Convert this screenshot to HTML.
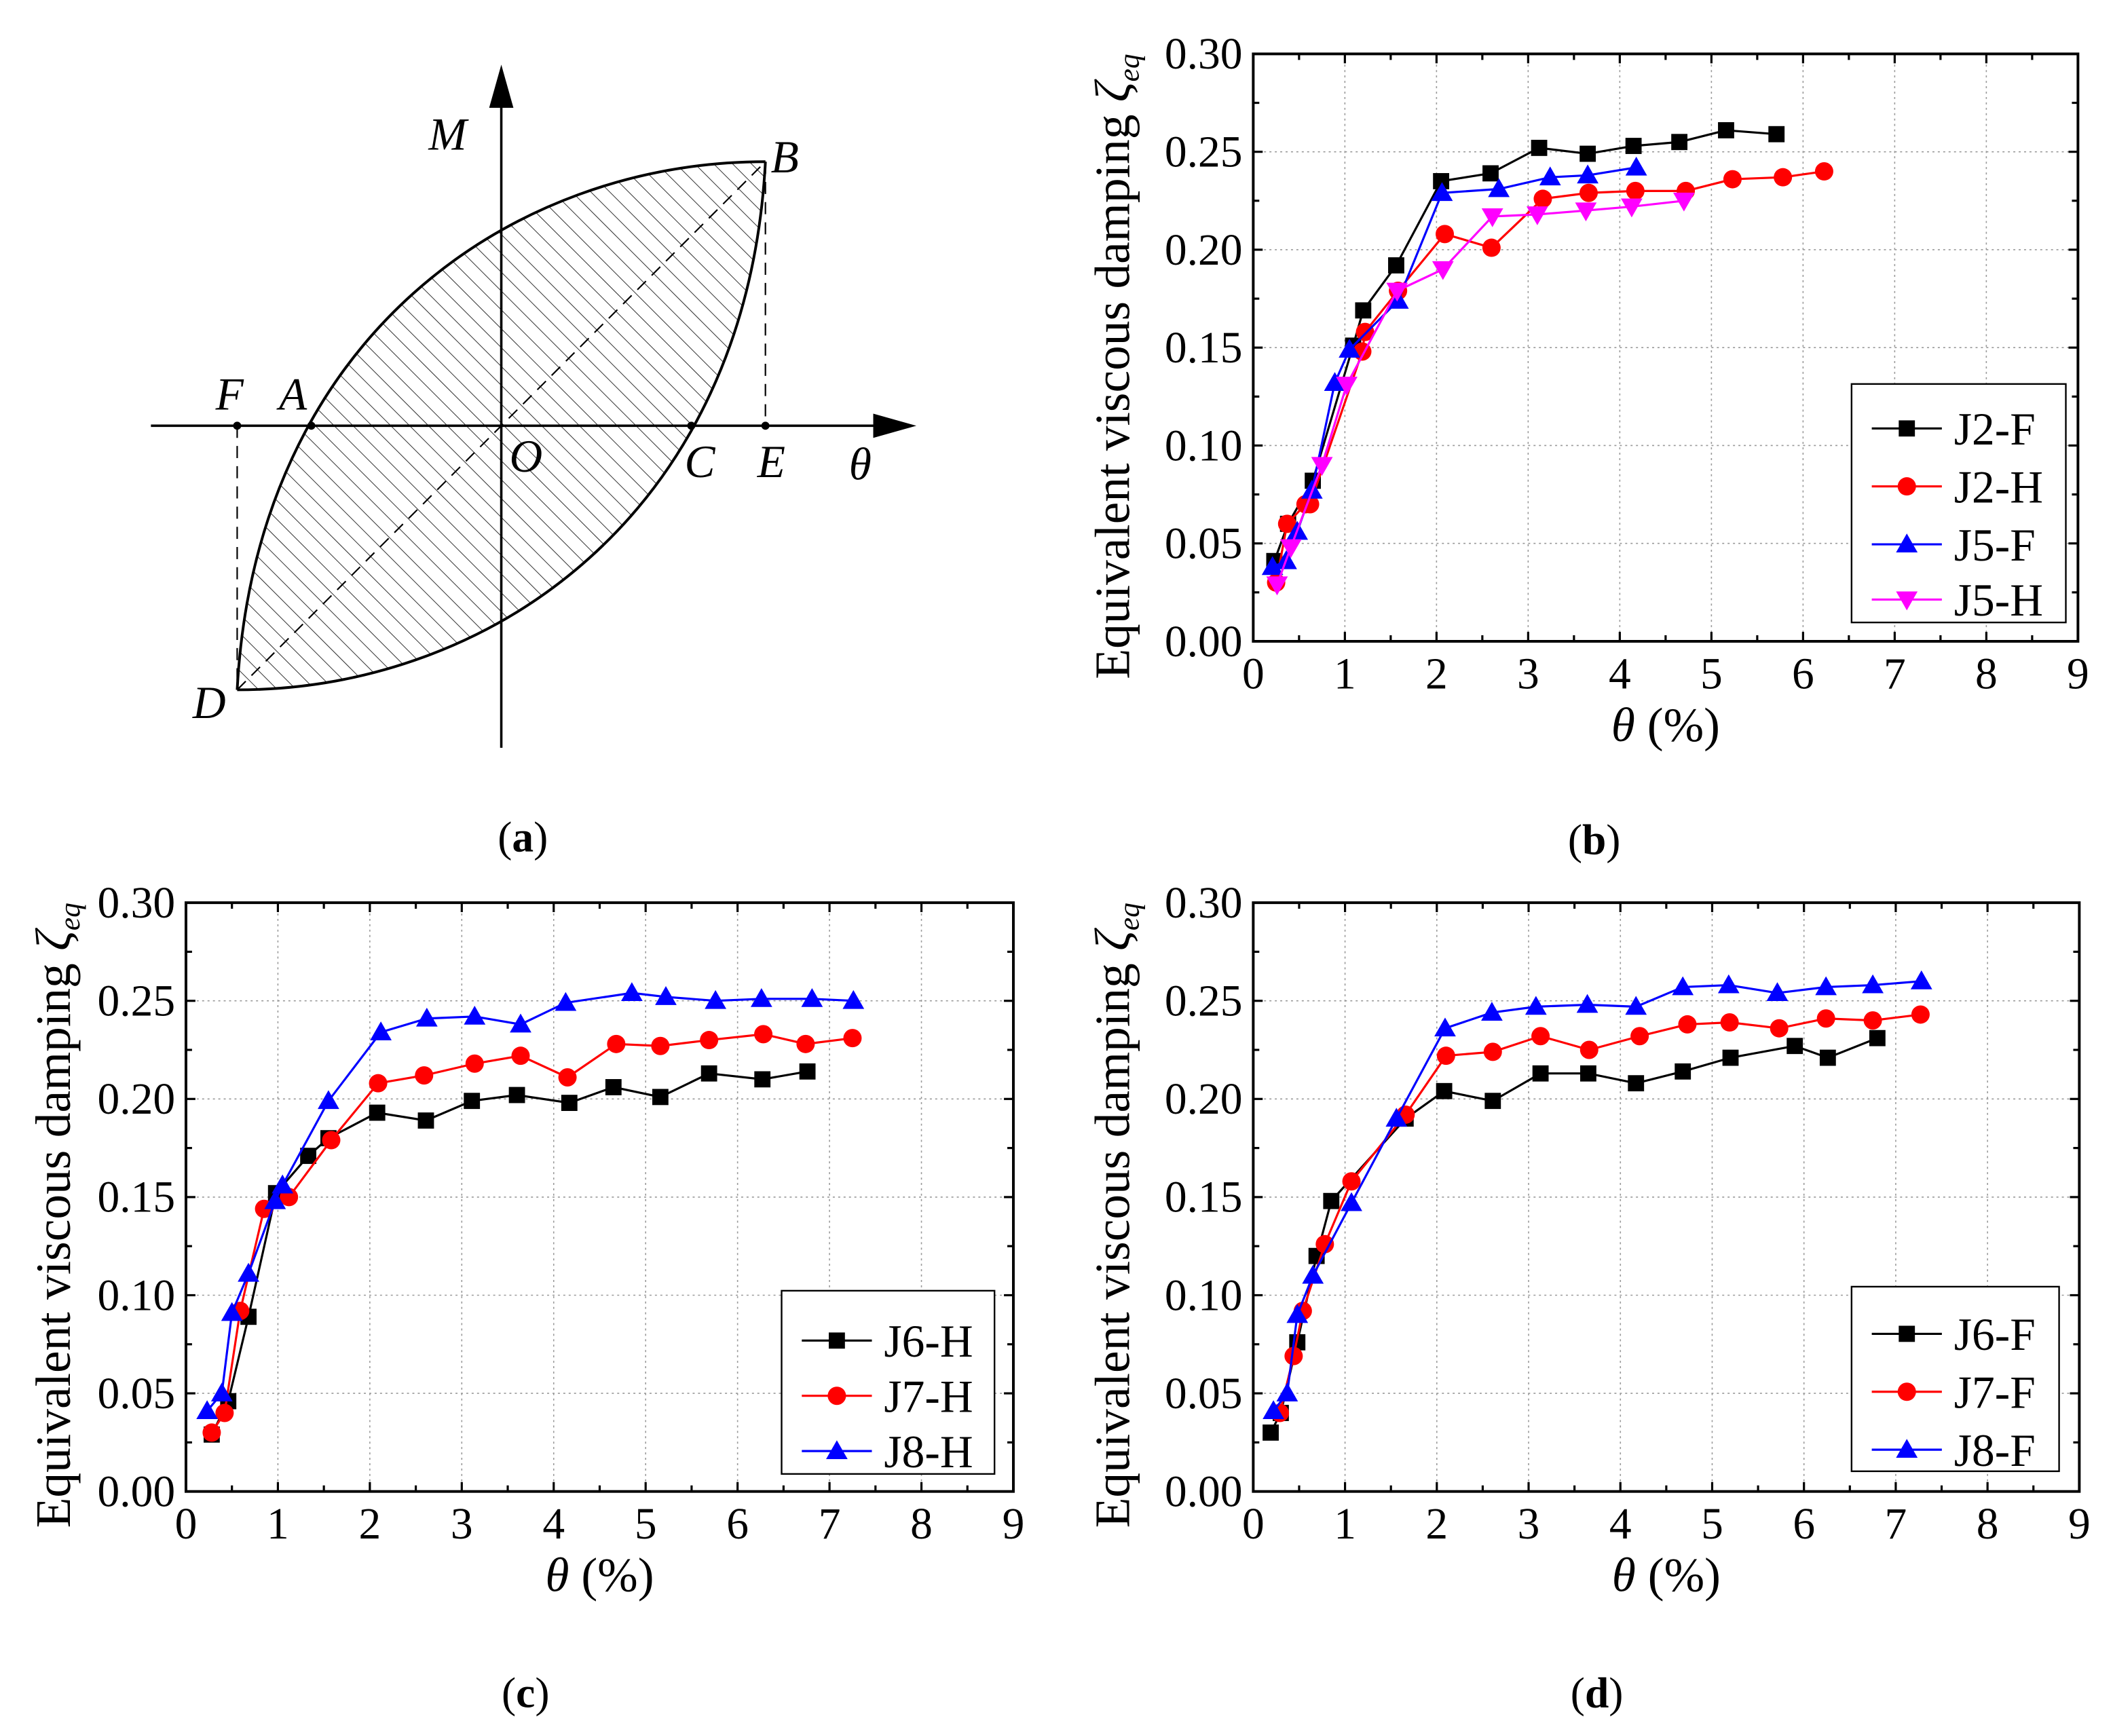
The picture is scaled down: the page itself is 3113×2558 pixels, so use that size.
<!DOCTYPE html>
<html><head><meta charset="utf-8"><style>
html,body{margin:0;padding:0;background:#fff;}
svg{display:block;font-family:"Liberation Serif","DejaVu Serif",serif;}
svg text{font-family:"Liberation Serif","DejaVu Serif",serif;}
</style></head>
<body>
<svg id="fig" width="3113" height="2558" viewBox="0 0 1568 1288.5" preserveAspectRatio="none" font-family="Liberation Serif, serif" xmlns="http://www.w3.org/2000/svg">
<defs>
<clipPath id="lens"><path d="M176,512 C190,250 380,120 568,120 C554,382 364,512 176,512 Z"/></clipPath>
</defs>
<rect width="1568" height="1288.5" fill="#fff"/>
<g id="diagram">
  <g id="hatch" clip-path="url(#lens)" stroke="#333" stroke-width="0.5"></g>
  <line x1="112" y1="316" x2="655" y2="316" stroke="#000" stroke-width="1.8"/>
  <polygon points="648,307 680,316 648,325" fill="#000"/>
  <line x1="372" y1="555" x2="372" y2="75" stroke="#000" stroke-width="1.8"/>
  <polygon points="363,80 372,48 381,80" fill="#000"/>
  <path d="M176,512 C190,250 380,120 568,120" fill="none" stroke="#000" stroke-width="2"/>
  <path d="M176,512 C364,512 554,382 568,120" fill="none" stroke="#000" stroke-width="2"/>
  <line x1="176" y1="512" x2="568" y2="120" stroke="#000" stroke-width="1.1" stroke-dasharray="9,6"/>
  <line x1="176" y1="316" x2="176" y2="512" stroke="#000" stroke-width="1.1" stroke-dasharray="9,6"/>
  <line x1="568" y1="120" x2="568" y2="316" stroke="#000" stroke-width="1.1" stroke-dasharray="9,6"/>
  <circle cx="176" cy="316" r="3"/>
  <circle cx="231" cy="316" r="3"/>
  <circle cx="513" cy="316" r="3"/>
  <circle cx="568" cy="316" r="3"/>
  <g font-style="italic" font-size="34">
    <text x="318" y="111">M</text>
    <text x="572" y="128">B</text>
    <text x="160" y="304">F</text>
    <text x="207" y="304">A</text>
    <text x="378" y="350">O</text>
    <text x="508" y="354">C</text>
    <text x="562" y="354">E</text>
    <text x="630" y="356">θ</text>
    <text x="143" y="533">D</text>
  </g>
</g>
<g font-size="32">
  <text x="388" y="632" text-anchor="middle">(<tspan font-weight="bold">a</tspan>)</text>
  <text x="1183" y="634" text-anchor="middle">(<tspan font-weight="bold">b</tspan>)</text>
  <text x="390" y="1267" text-anchor="middle">(<tspan font-weight="bold">c</tspan>)</text>
  <text x="1185" y="1267" text-anchor="middle">(<tspan font-weight="bold">d</tspan>)</text>
</g>
</svg>
<script>
// ---- data ----
const xTicks = [0,1,2,3,4,5,6,7,8,9];
const yTicks = [0,0.05,0.10,0.15,0.20,0.25,0.30];
const yTickLabels = ["0.00","0.05","0.10","0.15","0.20","0.25","0.30"];

const b_J2F_x = [0.23,0.38,0.65,1.09,1.20,1.56,2.05,2.59,3.12,3.65,4.15,4.65,5.16,5.71];
const b_J2F_y = [0.041,0.060,0.082,0.151,0.169,0.192,0.235,0.239,0.252,0.249,0.253,0.255,0.261,0.259];
const b_J2H_x = [0.25,0.37,0.57,0.62,1.19,1.22,1.58,2.09,2.60,3.16,3.66,4.17,4.72,5.23,5.78,6.23];
const b_J2H_y = [0.030,0.060,0.070,0.070,0.148,0.158,0.179,0.208,0.201,0.226,0.229,0.230,0.230,0.236,0.237,0.240];
const b_J5F_x = [0.21,0.36,0.48,0.64,0.89,1.05,1.58,2.06,2.68,3.24,3.65,4.18];
const b_J5F_y = [0.038,0.041,0.056,0.077,0.132,0.149,0.174,0.229,0.231,0.237,0.238,0.242];
const b_J5H_x = [0.26,0.41,0.75,1.02,1.57,2.07,2.61,3.10,3.63,4.13,4.70];
const b_J5H_y = [0.029,0.048,0.090,0.131,0.179,0.190,0.217,0.218,0.220,0.222,0.225];

const c_J6H_x = [0.28,0.46,0.68,0.98,1.33,1.55,2.08,2.61,3.11,3.60,4.17,4.65,5.16,5.69,6.27,6.76];
const c_J6H_y = [0.029,0.046,0.089,0.152,0.171,0.180,0.193,0.189,0.199,0.202,0.198,0.206,0.201,0.213,0.210,0.214];
const c_J7H_x = [0.28,0.42,0.59,0.85,1.12,1.58,2.09,2.59,3.14,3.64,4.15,4.68,5.16,5.69,6.28,6.74,7.25];
const c_J7H_y = [0.030,0.040,0.092,0.144,0.150,0.179,0.208,0.212,0.218,0.222,0.211,0.228,0.227,0.230,0.233,0.228,0.231];
const c_J8H_x = [0.23,0.39,0.50,0.68,0.97,1.05,1.55,2.12,2.62,3.14,3.64,4.13,4.85,5.22,5.76,6.26,6.81,7.26];
const c_J8H_y = [0.041,0.050,0.091,0.111,0.148,0.156,0.199,0.234,0.241,0.242,0.238,0.249,0.254,0.252,0.250,0.251,0.251,0.250];

const d_J6F_x = [0.19,0.30,0.48,0.69,0.85,1.66,2.08,2.61,3.13,3.65,4.17,4.68,5.20,5.90,6.26,6.80];
const d_J6F_y = [0.030,0.040,0.076,0.120,0.148,0.190,0.204,0.199,0.213,0.213,0.208,0.214,0.221,0.227,0.221,0.231];
const d_J7F_x = [0.29,0.44,0.54,0.78,1.07,1.66,2.10,2.61,3.13,3.66,4.21,4.73,5.19,5.73,6.24,6.75,7.27];
const d_J7F_y = [0.040,0.069,0.092,0.126,0.158,0.192,0.222,0.224,0.232,0.225,0.232,0.238,0.239,0.236,0.241,0.240,0.243];
const d_J8F_x = [0.22,0.37,0.48,0.65,1.07,1.56,2.09,2.60,3.08,3.64,4.17,4.68,5.18,5.71,6.24,6.75,7.28];
const d_J8F_y = [0.041,0.050,0.090,0.110,0.147,0.190,0.236,0.244,0.247,0.248,0.247,0.257,0.258,0.254,0.257,0.258,0.260];

const NS = "http://www.w3.org/2000/svg";
const svg = document.getElementById('fig');
function mk(tag, parent, attrs){ const e=document.createElementNS(NS,tag); for(const k in attrs) e.setAttribute(k,attrs[k]); parent.appendChild(e); return e; }

// hatch
const hatch = document.getElementById('hatch');
for (let c=-600; c<900; c+=14){
  const l = mk('line', hatch, {x1:c, y1:0, x2:c+700, y2:700});
  
  
}

function marker(g, shape, color, cx, cy){
  let m;
  if (shape==='square') m = mk('rect', g, {x:cx-6,y:cy-6,width:12,height:12,fill:color});
  else if (shape==='circle') m = mk('circle', g, {cx:cx,cy:cy,r:6.8,fill:color});
  else if (shape==='up') m = mk('polygon', g, {points:`${cx-8},${cy+6} ${cx+8},${cy+6} ${cx},${cy-8}`,fill:color});
  else m = mk('polygon', g, {points:`${cx-8},${cy-6} ${cx+8},${cy-6} ${cx},${cy+8}`,fill:color});
  return m;
}

function makePlot(id, L, R, T, B, titleX, titleCY, series, leg){
  const g = mk('g', svg, {});
  
  
  const xs = v => L + (v-0)/(9-0)*(R-L);
  const ys = v => B - (v-0)/(0.30-0)*(B-T);
  xTicks.forEach(t=>{ if(t>0&&t<9){ const l=mk('line',g,{x1:xs(t),x2:xs(t),y1:T,y2:B,stroke:'#999','stroke-width':0.8,'stroke-dasharray':'1.5,2.5'});
      }});
  yTicks.forEach(t=>{ if(t>0&&t<0.3){ const l=mk('line',g,{x1:L,x2:R,y1:ys(t),y2:ys(t),stroke:'#999','stroke-width':0.8,'stroke-dasharray':'1.5,2.5'});
      }});
  const tk = mk('g', g, {stroke:'#000','stroke-width':1.6});
   
  for (let v=0; v<=9.001; v+=0.5){ const len = (Math.abs(v-Math.round(v))<1e-6)?7:4.5;
    mk('line',tk,{x1:xs(v),x2:xs(v),y1:B,y2:B-len}); mk('line',tk,{x1:xs(v),x2:xs(v),y1:T,y2:T+len}); }
  for (let v=0; v<=0.3001; v+=0.025){ const major = Math.abs(v/0.05-Math.round(v/0.05))<1e-6; const len = major?7:4.5;
    mk('line',tk,{x1:L,x2:L+len,y1:ys(v),y2:ys(v)}); mk('line',tk,{x1:R,x2:R-len,y1:ys(v),y2:ys(v)}); }
  const fr = mk('rect', g, {x:L,y:T,width:R-L,height:B-T,fill:'none',stroke:'#000','stroke-width':2});
   
  xTicks.forEach(t=>{ const e=mk('text',g,{x:xs(t),y:B+35,'text-anchor':'middle','font-size':33}); e.textContent=String(t);
      });
  yTicks.forEach((t,i)=>{ const e=mk('text',g,{x:L-8,y:ys(t)+11,'text-anchor':'end','font-size':33}); e.textContent=yTickLabels[i];
      });
  const xt = mk('text', g, {x:(L+R)/2, y:B+74, 'text-anchor':'middle','font-size':36});
   
  xt.innerHTML = '<tspan font-style="italic">θ</tspan> (%)';
  const yt = mk('text', g, {x:0, y:0, 'text-anchor':'middle','font-size':37, transform:`translate(${titleX},${titleCY}) rotate(-90)`});
   
  yt.innerHTML = 'Equivalent viscous damping <tspan font-style="italic">ζ</tspan><tspan font-style="italic" font-size="22" dy="7">eq</tspan>';
  series.forEach(s=>{
    const sg = mk('g', g, {});
    
    
    const pts = s.x.map((v,i)=>xs(v)+','+ys(s.y[i])).join(' ');
    const pl = mk('polyline', sg, {points:pts, fill:'none', stroke:s.color, 'stroke-width':1.6});
     
    s.x.forEach((v,i)=>{ const m=marker(sg, s.shape, s.color, xs(v), ys(s.y[i]));
        });
  });
  const lg = mk('g', g, {});
   
  mk('rect', lg, {x:leg.x1,y:leg.y1,width:leg.x2-leg.x1,height:leg.y2-leg.y1,fill:'#fff',stroke:'#000','stroke-width':1.2});
  series.forEach((s,i)=>{
    const ey = leg.rows[i];
    const eg = mk('g', lg, {});
     
    mk('line', eg, {x1:leg.x1+15,x2:leg.x1+67,y1:ey,y2:ey,stroke:s.color,'stroke-width':1.6});
    marker(eg, s.shape, s.color, leg.x1+41, ey);
    const t = mk('text', eg, {x:leg.x1+76, y:ey+12, 'font-size':34}); t.textContent = s.name;
  });
}

makePlot('b', 930, 1542, 40, 476, 838, 272, [
  {name:'J2-F', x:b_J2F_x, y:b_J2F_y, color:'#000', shape:'square'},
  {name:'J2-H', x:b_J2H_x, y:b_J2H_y, color:'#f00', shape:'circle'},
  {name:'J5-F', x:b_J5F_x, y:b_J5F_y, color:'#00f', shape:'up'},
  {name:'J5-H', x:b_J5H_x, y:b_J5H_y, color:'#f0f', shape:'down'}
], {x1:1374,x2:1533,y1:285,y2:462,rows:[318,361,404,445]});

makePlot('c', 138, 752, 670, 1107, 52, 902, [
  {name:'J6-H', x:c_J6H_x, y:c_J6H_y, color:'#000', shape:'square'},
  {name:'J7-H', x:c_J7H_x, y:c_J7H_y, color:'#f00', shape:'circle'},
  {name:'J8-H', x:c_J8H_x, y:c_J8H_y, color:'#00f', shape:'up'}
], {x1:580,x2:738,y1:958,y2:1094,rows:[995,1036,1077]});

makePlot('d', 930, 1543, 670, 1107, 838, 902, [
  {name:'J6-F', x:d_J6F_x, y:d_J6F_y, color:'#000', shape:'square'},
  {name:'J7-F', x:d_J7F_x, y:d_J7F_y, color:'#f00', shape:'circle'},
  {name:'J8-F', x:d_J8F_x, y:d_J8F_y, color:'#00f', shape:'up'}
], {x1:1374,x2:1528,y1:955,y2:1092,rows:[990,1033,1076]});
</script>
</body></html>
